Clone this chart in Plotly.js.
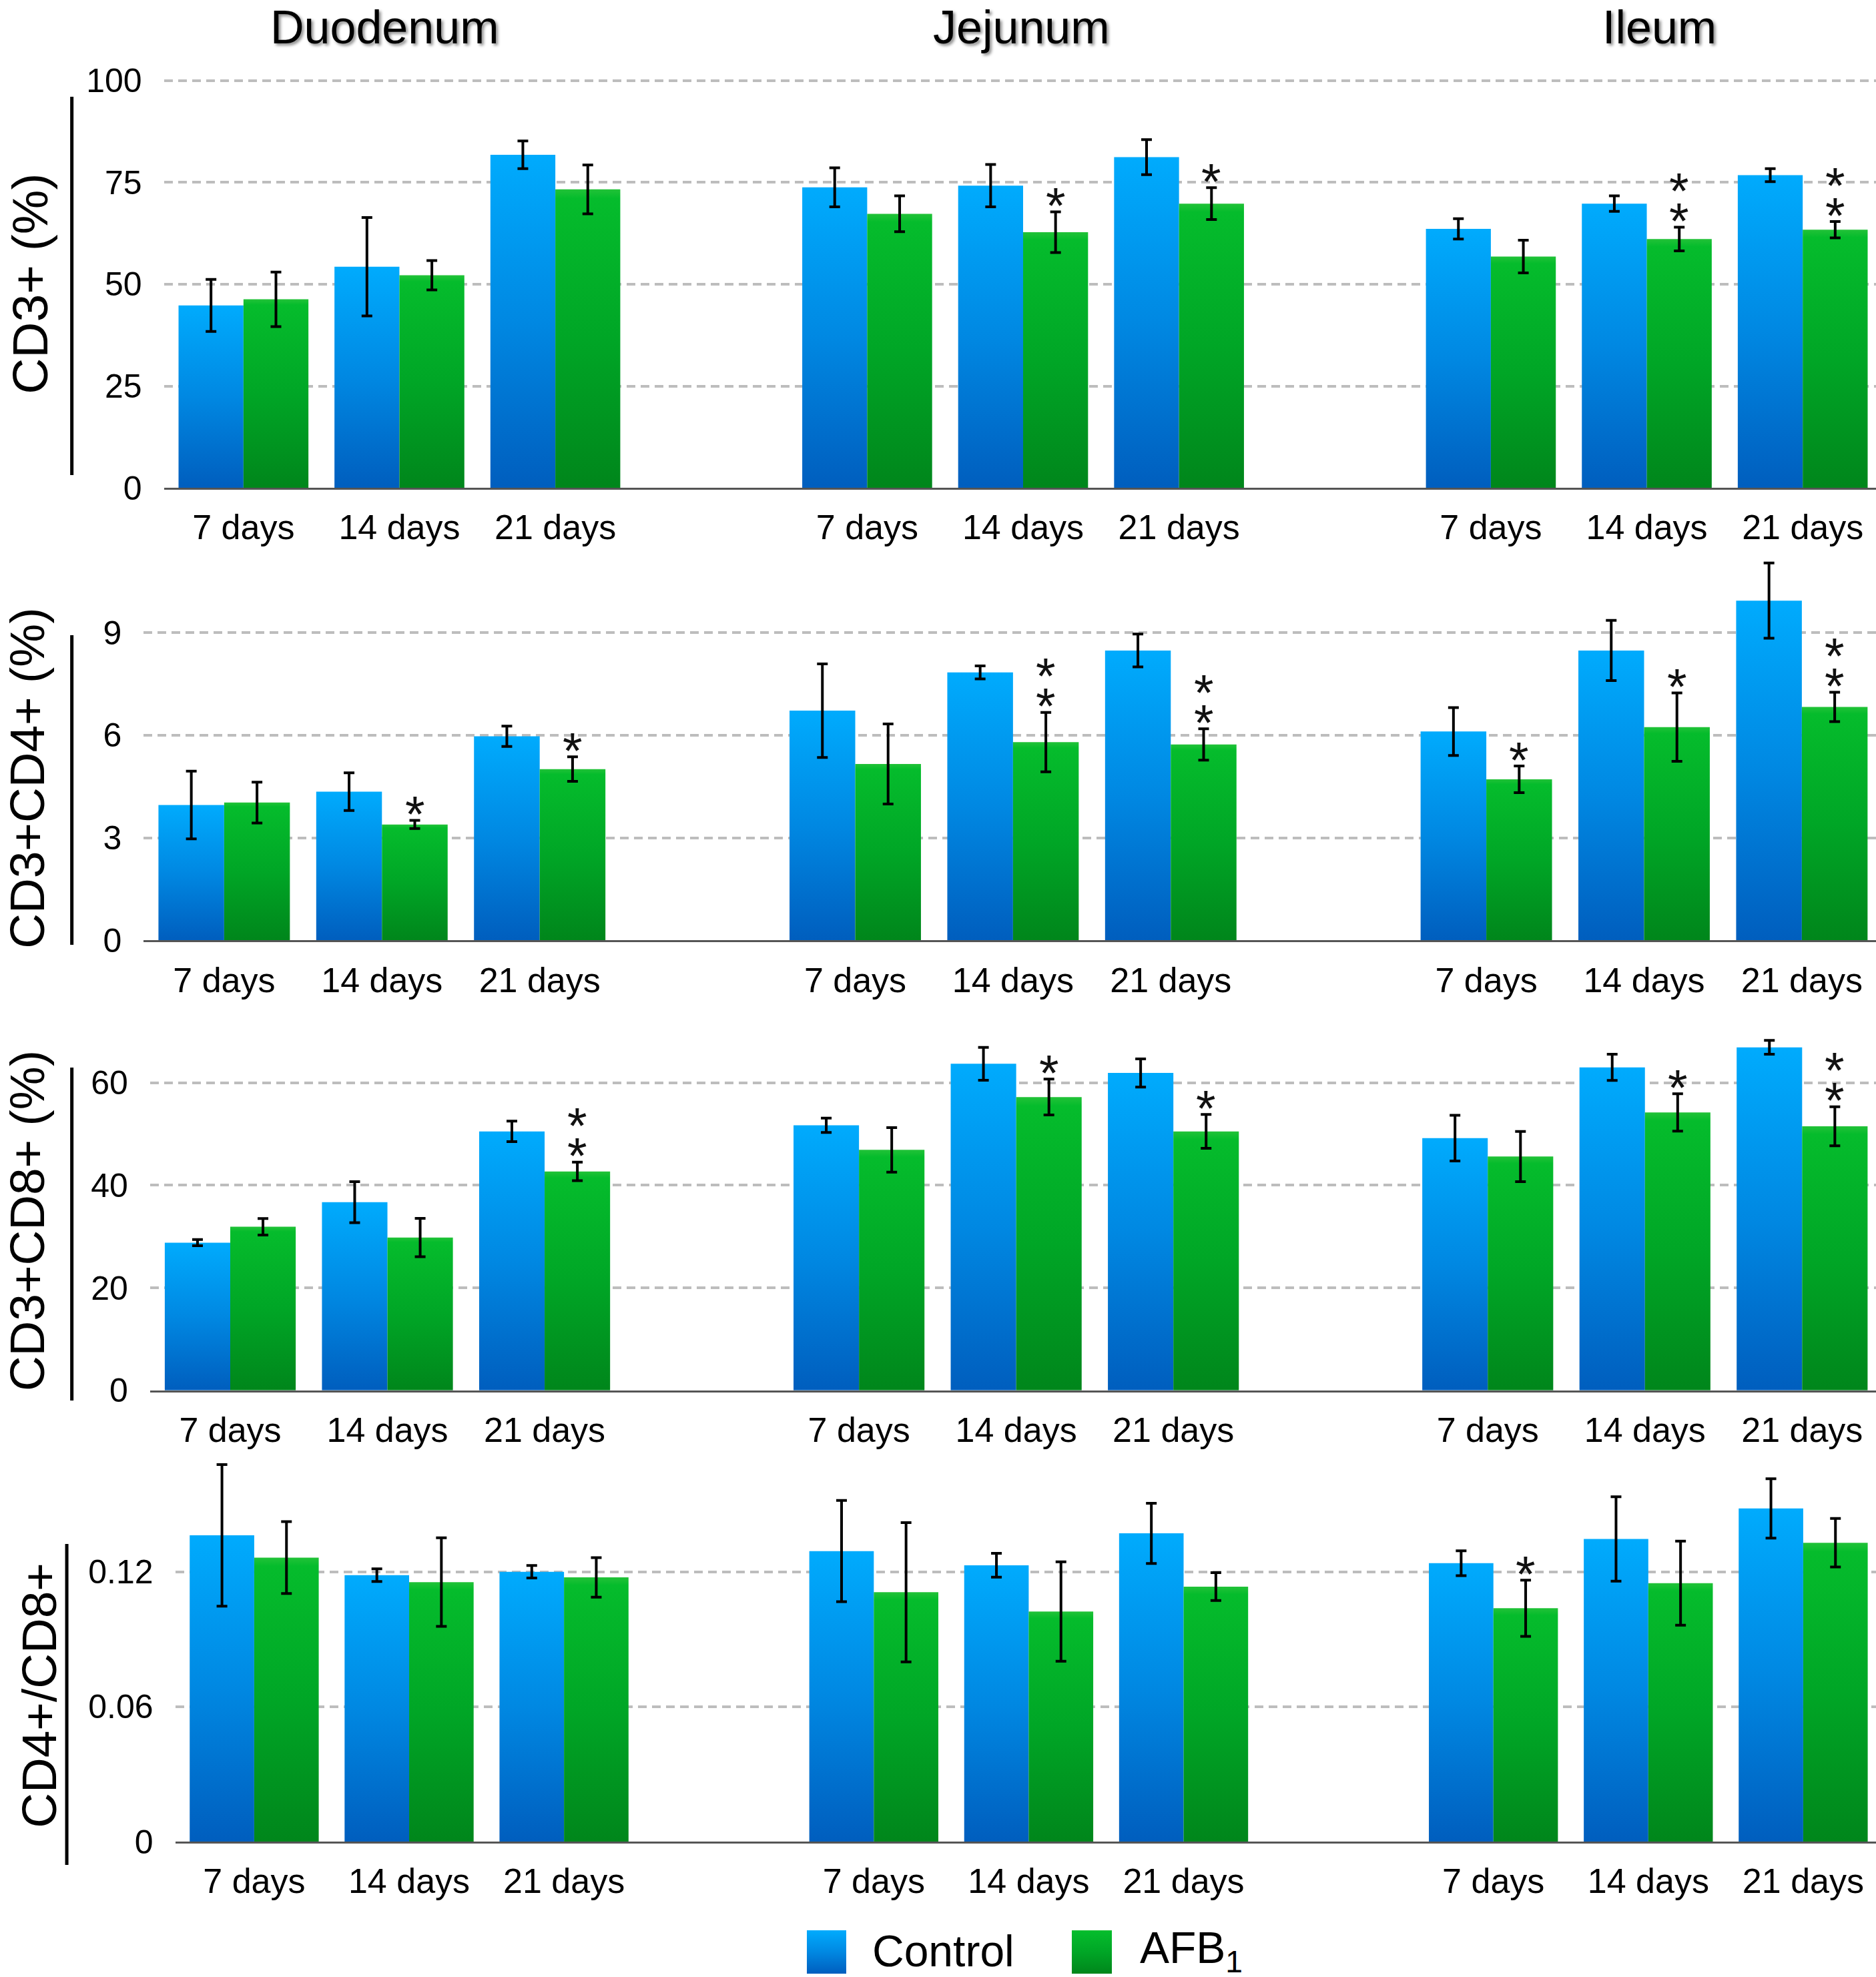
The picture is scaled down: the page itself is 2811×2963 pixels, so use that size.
<!DOCTYPE html>
<html>
<head>
<meta charset="utf-8">
<script src="https://cdn.plot.ly/plotly-3.0.1.min.js"></script>
<style>html,body{margin:0;padding:0;background:#fff}#chart{width:2811px;height:2963px}</style>
</head>
<body>
<div id="chart"></div>
<script>
// ---------- DATA ----------
const tissues = ['Duodenum', 'Jejunum', 'Ileum'];
const days = ['7 days', '14 days', '21 days'];
const slots = [0, 1, 2, 4, 5, 6, 8, 9, 10];           // category slots (blank slot between tissues)
const dayLabels = [].concat(days, days, days);
const seriesNames = ['Control', 'AFB<sub>1</sub>'];

// CD3+ (%)
const cd3Control    = [44.8, 54.3, 81.8, 73.8, 74.2, 81.2, 63.6, 69.8, 76.8];
const cd3ControlErr = [6.4, 12.1, 3.4, 4.8, 5.2, 4.3, 2.5, 1.9, 1.6];
const cd3Afb        = [46.3, 52.2, 73.3, 67.3, 62.8, 69.8, 56.8, 61.1, 63.4];
const cd3AfbErr     = [6.7, 3.6, 6.0, 4.4, 5.0, 3.9, 4.0, 2.9, 2.0];
const cd3Sig        = [0, 0, 0, 0, 1, 1, 0, 2, 2];

// CD3+CD4+ (%)
const cd4Control    = [3.96, 4.35, 5.97, 6.72, 7.84, 8.48, 6.11, 8.48, 9.94];
const cd4ControlErr = [0.99, 0.55, 0.30, 1.37, 0.19, 0.48, 0.70, 0.88, 1.10];
const cd4Afb        = [4.03, 3.39, 5.01, 5.16, 5.80, 5.73, 4.71, 6.24, 6.83];
const cd4AfbErr     = [0.60, 0.12, 0.36, 1.17, 0.87, 0.46, 0.39, 1.00, 0.43];
const cd4Sig        = [0, 1, 1, 0, 2, 2, 1, 1, 2];

// CD3+CD8+ (%)
const cd8Control    = [28.8, 36.7, 50.5, 51.7, 63.7, 61.9, 49.2, 63.0, 66.9];
const cd8ControlErr = [0.6, 4.0, 2.0, 1.4, 3.2, 2.75, 4.45, 2.55, 1.35];
const cd8Afb        = [31.9, 29.8, 42.7, 46.9, 57.2, 50.5, 45.6, 54.2, 51.5];
const cd8AfbErr     = [1.6, 3.75, 1.8, 4.35, 3.5, 3.3, 4.9, 3.65, 3.8];
const cd8Sig        = [0, 0, 2, 0, 1, 1, 0, 1, 2];

// CD4+/CD8+
const ratioControl    = [0.1362, 0.1185, 0.1200, 0.1292, 0.1229, 0.1371, 0.1238, 0.1346, 0.1482];
const ratioControlErr = [0.0315, 0.0028, 0.0028, 0.0225, 0.0053, 0.0134, 0.0055, 0.0188, 0.0132];
const ratioAfb        = [0.1263, 0.1154, 0.1175, 0.1109, 0.1023, 0.1134, 0.1038, 0.1149, 0.1329];
const ratioAfbErr     = [0.0160, 0.0197, 0.0088, 0.0310, 0.0221, 0.0062, 0.0125, 0.0187, 0.0108];
const ratioSig        = [0, 0, 0, 0, 0, 0, 1, 0, 0];

const rowTitles = ['CD3+ (%)', 'CD3+CD4+ (%)', 'CD3+CD8+ (%)', 'CD4+/CD8+'];
const yTickVals = [[0, 25, 50, 75, 100], [0, 3, 6, 9], [0, 20, 40, 60], [0, 0.06, 0.12]];
const yTickText = [['0', '25', '50', '75', '100'], ['0', '3', '6', '9'], ['0', '20', '40', '60'], ['0', '0.06', '0.12']];

const panels = [
  {ctrl: cd3Control, ctrlErr: cd3ControlErr, afb: cd3Afb, afbErr: cd3AfbErr, sig: cd3Sig},
  {ctrl: cd4Control, ctrlErr: cd4ControlErr, afb: cd4Afb, afbErr: cd4AfbErr, sig: cd4Sig},
  {ctrl: cd8Control, ctrlErr: cd8ControlErr, afb: cd8Afb, afbErr: cd8AfbErr, sig: cd8Sig},
  {ctrl: ratioControl, ctrlErr: ratioControlErr, afb: ratioAfb, afbErr: ratioAfbErr, sig: ratioSig}
];

// ---------- LAYOUT / STYLE ----------
const W = 2811, H = 2963;
const FONT = 'Liberation Sans, Arial, Helvetica, sans-serif';
const BLUE = 'rgb(0,132,224)', GREEN = 'rgb(0,163,38)';
const xDomains = [[0.0874, 1], [0.0766, 1], [0.0800, 1], [0.0934, 1]];
const yDomains = [[0.75326, 0.96023], [0.52437, 0.71799], [0.29676, 0.47827], [0.06851, 0.26183]];
const yRanges = [[0, 100.5], [0, 11.2], [0, 70], [0, 0.17]];
const xRange = [-0.51, 10.47];
const titlePos = [[0.016, 0.8566], [0.0145, 0.6065], [0.0145, 0.3826], [0.0205, 0.1424]];
const linePos = [[0.0383, 0.7597, 0.9511], [0.0383, 0.5221, 0.6787], [0.0383, 0.2916, 0.4600], [0.0356, 0.0567, 0.2190]];
const colTitleX = [576 / W, 1530 / W, 2486 / W];
const greenOffset = 0.2085;

const data = [];
const layout = {
  width: W, height: H,
  margin: {l: 0, r: 0, t: 0, b: 0},
  paper_bgcolor: '#fff', plot_bgcolor: 'rgba(0,0,0,0)',
  barmode: 'group', bargap: 0.167, bargroupgap: 0,
  showlegend: false,
  font: {family: FONT, color: '#000'},
  annotations: [], shapes: []
};

panels.forEach((p, r) => {
  const xa = r === 0 ? 'x' : 'x' + (r + 1);
  const ya = r === 0 ? 'y' : 'y' + (r + 1);
  const errStyle = {type: 'data', visible: true, color: '#000', thickness: 4, width: 8};
  data.push({
    type: 'bar', name: 'Control', x: slots, y: p.ctrl, xaxis: xa, yaxis: ya,
    marker: {color: BLUE, line: {width: 0}},
    error_y: Object.assign({array: p.ctrlErr}, errStyle)
  });
  data.push({
    type: 'bar', name: 'AFB1', x: slots, y: p.afb, xaxis: xa, yaxis: ya,
    marker: {color: GREEN, line: {width: 0}},
    error_y: Object.assign({array: p.afbErr}, errStyle)
  });
  const xk = r === 0 ? 'xaxis' : 'xaxis' + (r + 1);
  const yk = r === 0 ? 'yaxis' : 'yaxis' + (r + 1);
  layout[xk] = {
    domain: xDomains[r], range: xRange, anchor: ya, type: 'linear',
    showline: true, linecolor: '#555', linewidth: 3, showgrid: false, zeroline: false,
    ticks: '', tickvals: slots, ticktext: dayLabels, ticklabelstandoff: 12,
    tickfont: {size: 52, family: FONT, color: '#000'}
  };
  layout[yk] = {
    domain: yDomains[r], range: yRanges[r], anchor: xa,
    showline: false, zeroline: false, showgrid: true,
    gridcolor: '#BDBDBD', gridwidth: 4, griddash: '13px,8px',
    ticks: '', tickvals: yTickVals[r], ticktext: yTickText[r], ticklabelstandoff: 32,
    tickfont: {size: 50, family: FONT, color: '#000'}
  };
  // row title
  layout.annotations.push({
    xref: 'paper', yref: 'paper', x: titlePos[r][0], y: titlePos[r][1],
    text: rowTitles[r], textangle: -90, showarrow: false,
    xanchor: 'center', yanchor: 'middle', font: {size: r === 0 ? 75 : 73, family: FONT, color: '#000'}
  });
  // decorative vertical line
  layout.shapes.push({
    type: 'line', xref: 'paper', yref: 'paper',
    x0: linePos[r][0], x1: linePos[r][0], y0: linePos[r][1], y1: linePos[r][2],
    line: {color: '#000', width: 5}
  });
  // significance stars
  p.sig.forEach((n, i) => {
    for (let k = 0; k < n; k++) {
      layout.annotations.push({
        xref: xa, yref: ya, x: slots[i] + greenOffset, y: p.afb[i] + p.afbErr[i],
        text: '*', showarrow: false, xanchor: 'center', yanchor: 'middle',
        yshift: 10 + 45 * k, font: {size: 76, family: FONT, color: '#111'}
      });
    }
  });
});

// column titles
tissues.forEach((t, i) => {
  layout.annotations.push({
    xref: 'paper', yref: 'paper', x: colTitleX[i], y: 1,
    text: t, showarrow: false, xanchor: 'center', yanchor: 'top',
    font: {size: 70, family: FONT, color: '#000', shadow: '3px 3px 4px rgba(0,0,0,0.45)'}
  });
});

// legend
layout.shapes.push({type: 'rect', xref: 'paper', yref: 'paper', x0: 1209 / W, x1: 1268 / W, y0: 1 - 2958 / H, y1: 1 - 2893 / H, fillcolor: BLUE, line: {width: 0}});
layout.shapes.push({type: 'rect', xref: 'paper', yref: 'paper', x0: 1606 / W, x1: 1666 / W, y0: 1 - 2958 / H, y1: 1 - 2893 / H, fillcolor: GREEN, line: {width: 0}});
layout.annotations.push({xref: 'paper', yref: 'paper', x: 1305 / W, y: 1 - 2924 / H, text: seriesNames[0], showarrow: false, xanchor: 'left', yanchor: 'middle', font: {size: 66, family: FONT, color: '#000'}});
layout.annotations.push({xref: 'paper', yref: 'paper', x: 1706 / W, y: 1 - 2924 / H, text: seriesNames[1], showarrow: false, xanchor: 'left', yanchor: 'middle', font: {size: 66, family: FONT, color: '#000'}});

const gd = document.getElementById('chart');
Plotly.newPlot(gd, data, layout, {displayModeBar: false, staticPlot: true}).then(function () {
  const NS = 'http://www.w3.org/2000/svg';
  const defs = gd.querySelector('svg.main-svg defs');
  function grad(id, stops) {
    const g = document.createElementNS(NS, 'linearGradient');
    g.setAttribute('id', id);
    g.setAttribute('x1', '0'); g.setAttribute('y1', '0');
    g.setAttribute('x2', '0'); g.setAttribute('y2', '1');
    stops.forEach(function (s) {
      const st = document.createElementNS(NS, 'stop');
      st.setAttribute('offset', s[0]); st.setAttribute('stop-color', s[1]);
      g.appendChild(st);
    });
    defs.appendChild(g);
  }
  grad('gradBlue', [['0', '#00ABFD'], ['0.5', '#0088E2'], ['1', '#005EBE']]);
  grad('gradGreen', [['0', '#22C238'], ['0.03', '#05BC2C'], ['0.5', '#00A626'], ['1', '#00861B']]);
  gd.querySelectorAll('path').forEach(function (p) {
    const f = (p.style.fill || '').replace(/\s/g, '');
    if (f === 'rgb(0,132,224)') p.style.fill = 'url(#gradBlue)';
    else if (f === 'rgb(0,163,38)') p.style.fill = 'url(#gradGreen)';
  });
});
</script>
</body>
</html>
